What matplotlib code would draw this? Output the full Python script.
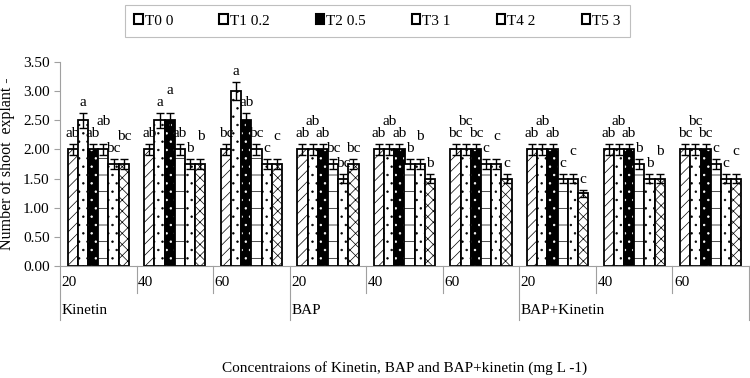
import numpy as np
import matplotlib
matplotlib.use("Agg")
import matplotlib.pyplot as plt
from matplotlib.patches import Patch
from matplotlib.transforms import blended_transform_factory

plt.rcParams['font.family'] = ['Liberation Serif', 'DejaVu Serif']
plt.rcParams['hatch.linewidth'] = 0.5

conc = ['20', '40', '60', '20', '40', '60', '20', '40', '60']
hormones = ['Kinetin', 'BAP', 'BAP+Kinetin']
series = ['T0 0', 'T1 0.2', 'T2 0.5', 'T3 1', 'T4 2', 'T5 3']

# one row per series (T0..T5), one column per group
t0 = [2.00, 2.00, 2.00, 2.00, 2.00, 2.00, 2.00, 2.00, 2.00]
t1 = [2.50, 2.50, 3.00, 2.00, 2.00, 2.00, 2.00, 2.00, 2.00]
t2 = [2.00, 2.50, 2.50, 2.00, 2.00, 2.00, 2.00, 2.00, 2.00]
t3 = [2.00, 2.00, 2.00, 1.75, 1.75, 1.75, 1.50, 1.75, 1.75]
t4 = [1.75, 1.75, 1.75, 1.50, 1.75, 1.75, 1.50, 1.50, 1.50]
t5 = [1.75, 1.75, 1.75, 1.75, 1.50, 1.50, 1.25, 1.50, 1.50]

e0 = [0.10, 0.10, 0.10, 0.10, 0.10, 0.10, 0.10, 0.10, 0.10]
e1 = [0.13, 0.13, 0.15, 0.10, 0.10, 0.10, 0.10, 0.10, 0.10]
e2 = [0.10, 0.13, 0.13, 0.10, 0.10, 0.10, 0.10, 0.10, 0.10]
e3 = [0.10, 0.10, 0.10, 0.09, 0.09, 0.09, 0.08, 0.09, 0.09]
e4 = [0.09, 0.09, 0.09, 0.08, 0.09, 0.09, 0.08, 0.08, 0.08]
e5 = [0.09, 0.09, 0.09, 0.09, 0.08, 0.08, 0.06, 0.08, 0.08]

l0 = ['ab', 'ab', 'bc', 'ab', 'ab', 'bc', 'ab', 'ab', 'bc']
l1 = ['a', 'a', 'a', 'ab', 'ab', 'bc', 'ab', 'ab', 'bc']
l2 = ['ab', 'a', 'ab', 'ab', 'ab', 'bc', 'ab', 'ab', 'bc']
l3 = ['ab', 'ab', 'bc', 'bc', 'b', 'c', 'c', 'b', 'c']
l4 = ['bc', 'b', 'c', 'bc', 'b', 'c', 'c', 'b', 'c']
l5 = ['bc', 'b', 'c', 'bc', 'b', 'c', 'c', 'b', 'c']

values = [t0, t1, t2, t3, t4, t5]
errors = [e0, e1, e2, e3, e4, e5]
letters = [l0, l1, l2, l3, l4, l5]
fills = ['white', 'white', 'black', 'white', 'white', 'white']
hatches = ['///', '..', '..', '-', '..', 'xxx']

fig = plt.figure(figsize=(7.5, 3.78), dpi=100)
ax = fig.add_axes([60 / 750, 1 - 266 / 378, 689 / 750, 204 / 378])

n = len(conc)
x = np.arange(n)
w = 0.8 / 6
for k in range(6):
    xs = x - 0.4 + w * (k + 0.5)
    bars = ax.bar(xs, values[k], w, color=fills[k], edgecolor='black',
                  linewidth=1.3, hatch=hatches[k], zorder=2)
    if k == 2:
        for b in bars:
            b._hatch_color = (1, 1, 1, 1)
    ax.errorbar(xs, values[k], yerr=errors[k], fmt='none', ecolor='black',
                elinewidth=1, capsize=3, capthick=1, zorder=3)

# letters above error bars, raise every second one in a run of equal heights
for g in range(n):
    prev_top = None
    prev_raised = False
    for k in range(6):
        top = values[k][g] + errors[k][g]
        raised = prev_top is not None and abs(top - prev_top) < 1e-6 and not prev_raised
        y = top + 0.07 + (0.2 if raised else 0)
        ax.text(x[g] - 0.4 + w * (k + 0.5), y, letters[k][g], ha='center',
                va='bottom', fontsize=11)
        prev_top = top
        prev_raised = raised

ax.set_ylim(0, 3.5)
ax.set_xlim(-0.5, n - 0.5)
ax.set_yticks(np.arange(0, 3.51, 0.5))
ax.set_yticklabels([f'{v:.2f}' for v in np.arange(0, 3.51, 0.5)], fontsize=11)
ax.set_xticks([])
for s in ['top', 'right']:
    ax.spines[s].set_visible(False)
ax.spines['left'].set_color('#a0a0a0')
ax.spines['bottom'].set_color('#a0a0a0')
ax.tick_params(axis='y', colors='#a0a0a0', length=4, labelcolor='black')

# two-level category axis
tr = blended_transform_factory(ax.transData, ax.transAxes)
px = 1 / 204
for g in range(n + 1):
    long_line = g % 3 == 0
    ax.plot([g - 0.5, g - 0.5], [0, -(54 if long_line else 27) * px],
            color='#a0a0a0', lw=0.8, transform=tr, clip_on=False)
for g in range(n):
    ax.text(g - 0.48, -17 * px, conc[g], transform=tr, fontsize=11,
            ha='left', va='center')
for h in range(3):
    ax.text(3 * h - 0.48, -45 * px, hormones[h], transform=tr, fontsize=11,
            ha='left', va='center')

ax.set_ylabel('Number of shoot  explant -', fontsize=11.5, labelpad=6)
fig.text(0.54, 1 - 368 / 378, 'Concentraions of Kinetin, BAP and BAP+kinetin (mg L -1)',
         ha='center', va='center', fontsize=11)

handles = []
for k in range(6):
    handles.append(Patch(facecolor=fills[k], edgecolor='black', linewidth=1.5,
                         label=series[k]))
leg = fig.legend(handles=handles, loc='center', bbox_to_anchor=(377.5 / 750, 1 - 21 / 378),
                 ncol=6, frameon=True, fancybox=False, fontsize=11,
                 handlelength=0.55, handleheight=0.55, handletextpad=0.15,
                 columnspacing=3.0, borderpad=0.6)
leg.get_frame().set_edgecolor('#b0b0b0')
leg.get_frame().set_linewidth(0.8)

fig.savefig('out.png', dpi=100)
